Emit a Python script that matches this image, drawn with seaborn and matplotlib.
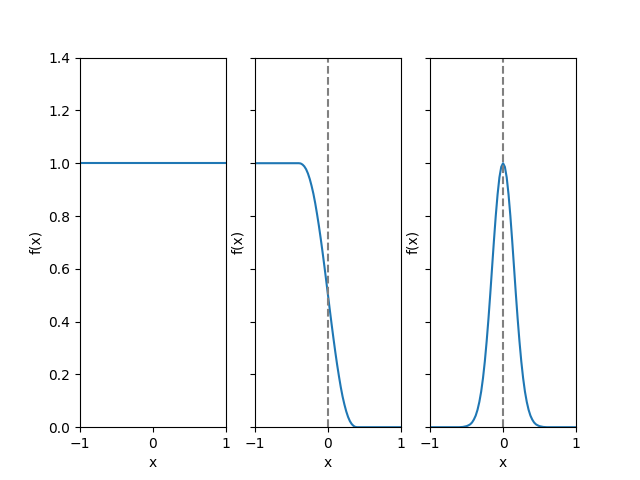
import matplotlib
matplotlib.use("Agg")
import matplotlib.pyplot as plt
import seaborn as sns

# 左图：常数
x_flat = [-1.0, 1.0]
y_flat = [1.0, 1.0]

# 中图：平滑阶跃
x_step = [-1.0, -0.40, -0.375, -0.35, -0.325, -0.30, -0.275, -0.25, -0.225, -0.20,
          -0.175, -0.15, -0.125, -0.10, -0.075, -0.05, -0.025, 0.0, 0.025, 0.05,
          0.075, 0.10, 0.125, 0.15, 0.175, 0.20, 0.225, 0.25, 0.275, 0.30,
          0.325, 0.35, 0.375, 0.40, 1.0]
y_step = [1.0, 1.0, 0.999, 0.995, 0.988, 0.977, 0.961, 0.940, 0.914, 0.884,
          0.848, 0.807, 0.763, 0.715, 0.664, 0.611, 0.556, 0.50, 0.444, 0.389,
          0.336, 0.285, 0.237, 0.193, 0.152, 0.116, 0.086, 0.060, 0.039, 0.023,
          0.012, 0.005, 0.001, 0.0, 0.0]

# 右图：钟形峰
x_peak = [-1.0, -0.60, -0.55, -0.50, -0.475, -0.45, -0.425, -0.40, -0.375, -0.35,
          -0.325, -0.30, -0.275, -0.25, -0.225, -0.20, -0.175, -0.15, -0.125, -0.10,
          -0.075, -0.05, -0.025, 0.0, 0.025, 0.05, 0.075, 0.10, 0.125, 0.15,
          0.175, 0.20, 0.225, 0.25, 0.275, 0.30, 0.325, 0.35, 0.375, 0.40,
          0.425, 0.45, 0.475, 0.50, 0.55, 0.60, 1.0]
y_peak = [0.0, 0.0, 0.001, 0.004, 0.007, 0.011, 0.018, 0.029, 0.044, 0.066,
          0.096, 0.135, 0.186, 0.249, 0.325, 0.411, 0.506, 0.607, 0.707, 0.801,
          0.882, 0.946, 0.986, 1.0, 0.986, 0.946, 0.882, 0.801, 0.707, 0.607,
          0.506, 0.411, 0.325, 0.249, 0.186, 0.135, 0.096, 0.066, 0.044, 0.029,
          0.018, 0.011, 0.007, 0.004, 0.001, 0.0, 0.0]

panels = [(x_flat, y_flat, False), (x_step, y_step, True), (x_peak, y_peak, True)]

fig, axes = plt.subplots(1, 3, sharey=True, figsize=(6.4, 4.8), dpi=100)

for ax, (xs, ys, mark_zero) in zip(axes, panels):
    sns.lineplot(x=xs, y=ys, ax=ax, color="C0", linewidth=1.5)
    if mark_zero:
        ax.axvline(0, color="gray", linestyle="--")
    ax.set_xlim(-1, 1)
    ax.set_ylim(0, 1.4)
    ax.set_xticks([-1, 0, 1])
    ax.set_xlabel("x")
    ax.set_ylabel("f(x)")
    ax.yaxis.label.set_visible(True)

fig.savefig("out.png", dpi=100)
